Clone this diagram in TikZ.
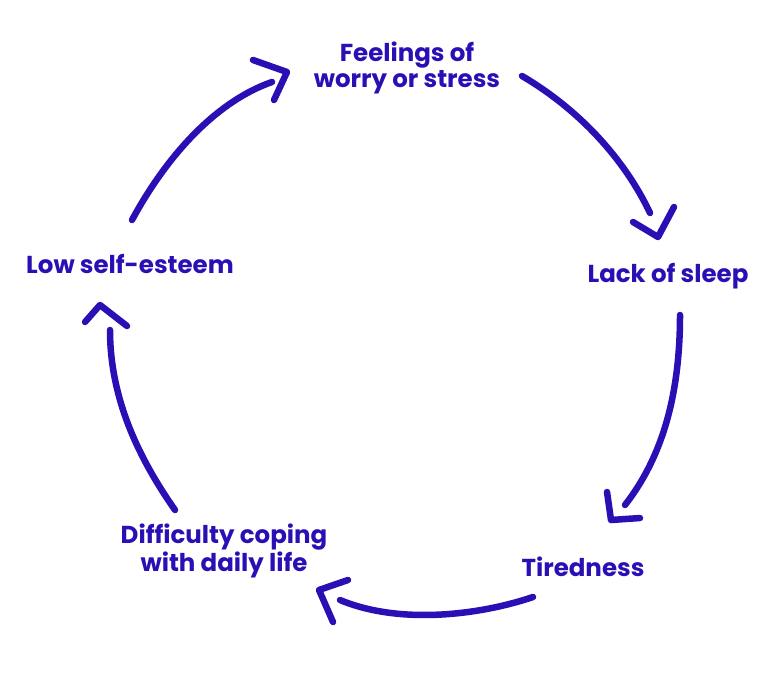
\documentclass[tikz,border=0pt]{standalone}
\usepackage{fontspec}
\setmainfont{Poppins}
\definecolor{ink}{HTML}{2A10B4}
\begin{document}
\begin{tikzpicture}[x=1pt,y=-1pt,
  lbl/.style={text=ink,font=\fontsize{24.5}{26}\selectfont\bfseries,align=center,inner sep=0pt},
  brush/.style={draw=ink,line width=6.5pt,line cap=round,line join=round}]
\useasboundingbox[fill=white] (0,0) rectangle (783,672);
\node[lbl] (feel) at (407,68) {Feelings of\\worry or stress};
\node[lbl] (lack) at (668,276) {Lack of sleep};
\node[lbl] (tired) at (583,567) {Tiredness};
\node[lbl] (diff) at (224,551) {Difficulty coping\\with daily life};
\node[lbl] (low) at (130,264) {Low self-esteem};
% arrow coordinates
\coordinate (a1s) at (132,220); \coordinate (a1e) at (272,82);
\coordinate (a2s) at (522,76);  \coordinate (a2e) at (650,213);
\coordinate (a3s) at (680,315); \coordinate (a3e) at (625,505);
\coordinate (a4s) at (533,597); \coordinate (a4e) at (340,600);
\coordinate (a5s) at (175,510); \coordinate (a5e) at (110,330);
\draw[brush] (a1s) .. controls (170,150) and (220,100) .. (a1e);
\draw[brush] (253,60) -- (287,72) -- (274,100);
\draw[brush] (a2s) .. controls (580,110) and (625,160) .. (a2e);
\draw[brush] (633,222) -- (658,237) -- (674,207);
\draw[brush] (a3s) .. controls (680,400) and (660,460) .. (a3e);
\draw[brush] (607,492) -- (611,520) -- (640,518);
\draw[brush] (a4s) .. controls (480,615) and (400,625) .. (a4e);
\draw[brush] (348,580) -- (319,590) -- (333,622);
\draw[brush] (a5s) .. controls (140,460) and (110,400) .. (a5e);
\draw[brush] (85,322) -- (100,305) -- (127,326);
\end{tikzpicture}
\end{document}
